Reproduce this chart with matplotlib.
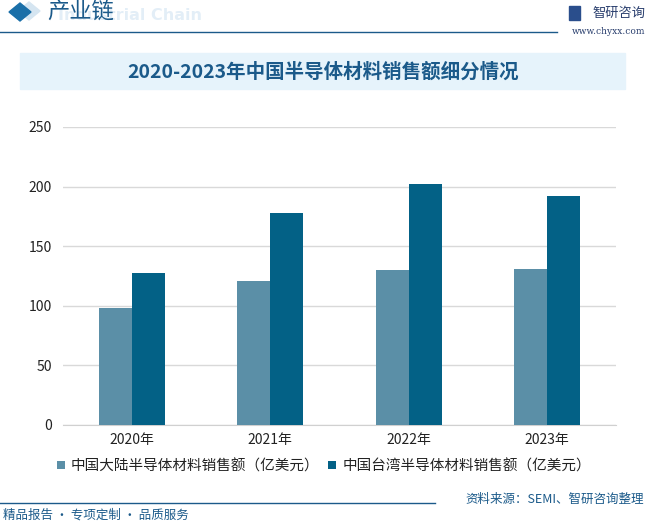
import numpy as np
import matplotlib.pyplot as plt
from matplotlib.patches import Rectangle, Polygon

plt.rcParams['font.family'] = ['Noto Sans CJK SC', 'DejaVu Sans']

# data
years = ['2020年', '2021年', '2022年', '2023年']
mainland = [98, 121, 130, 131]
taiwan = [127.5, 178, 202, 192]
series_names = ['中国大陆半导体材料销售额（亿美元）', '中国台湾半导体材料销售额（亿美元）']
y_ticks = [0, 50, 100, 150, 200, 250]

c_main = '#5b8fa7'
c_tw = '#036186'
c_dark = '#1b5a8a'

W, H = 647, 524
fig = plt.figure(figsize=(6.47, 5.24), dpi=100)


def fx(px):
    return px / W


def fy(py):
    return 1 - py / H


def diamond(cx, cy, hw, hh, color):
    pts = [[fx(cx - hw), fy(cy)], [fx(cx), fy(cy - hh)], [fx(cx + hw), fy(cy)], [fx(cx), fy(cy + hh)]]
    fig.patches.append(Polygon(pts, closed=True, transform=fig.transFigure, color=color, figure=fig))


# header
diamond(29, 11, 11, 9, '#d5e5f1')
diamond(20, 12, 11, 9, '#1a6fa8')
fig.text(fx(58), fy(16), 'Industrial Chain', fontsize=11.5, fontweight='bold', color='#e3eef7',
         ha='left', va='center', family='DejaVu Sans')
fig.text(fx(47), fy(12), '产业链', fontsize=16, color=c_dark, ha='left', va='center')
fig.lines.append(plt.Line2D([0, fx(557)], [fy(32), fy(32)], transform=fig.transFigure,
                            color=c_dark, lw=1))
fig.patches.append(Rectangle((fx(569), fy(20)), fx(11), 14 / H, transform=fig.transFigure,
                             color='#2a4e8c', figure=fig))
fig.text(fx(592), fy(13), '智研咨询', fontsize=9.5, color='#2a3f6e', ha='left', va='center')
fig.text(fx(645), fy(32), 'www.chyxx.com', fontsize=6.5, color='#2a3f6e', ha='right', va='center',
         family='DejaVu Serif')

# title band
fig.patches.append(Rectangle((fx(20), fy(89)), fx(605), 36 / H, transform=fig.transFigure,
                             color='#e6f3fb', figure=fig, zorder=0))
fig.text(fx(323), fy(72), '2020-2023年中国半导体材料销售额细分情况', fontsize=14, fontweight='bold',
         color=c_dark, ha='center', va='center')

# chart
ax = fig.add_axes([fx(63), fy(425), fx(553), 298 / H])
ax.patch.set_alpha(0)
x = np.arange(len(years))
w = 0.239
ax.bar(x - w/2, mainland, w, color=c_main, label=series_names[0], zorder=3)
ax.bar(x + w/2, taiwan, w, color=c_tw, label=series_names[1], zorder=3)
ax.set_xlim(-0.5, len(years) - 0.5)
ax.set_ylim(0, 250)
ax.set_yticks(y_ticks)
ax.set_yticklabels([str(t) for t in y_ticks], fontsize=10, color='#222222')
ax.set_xticks(x)
ax.set_xticklabels(years, fontsize=10, color='#222222')
ax.grid(axis='y', color='#d9d9d9', lw=1, zorder=0)
for s in ['top', 'right', 'left']:
    ax.spines[s].set_visible(False)
ax.spines['bottom'].set_color('#d0d0d0')
ax.tick_params(axis='both', length=0)
ax.tick_params(axis='y', pad=8)
ax.tick_params(axis='x', pad=6)

leg = fig.legend(loc='center', bbox_to_anchor=(fx(324), fy(466)), ncol=2, frameon=False,
                 fontsize=10.5, handlelength=0.55, handleheight=0.55, handletextpad=0.4,
                 columnspacing=0.6)
for t in leg.get_texts():
    t.set_color('#222222')

# footer
fig.lines.append(plt.Line2D([0, fx(435)], [fy(503), fy(503)], transform=fig.transFigure,
                            color=c_dark, lw=1))
fig.text(fx(3), fy(515), '精品报告 · 专项定制 · 品质服务', fontsize=9, color=c_dark, ha='left', va='center')
fig.text(fx(644), fy(499), '资料来源：SEMI、智研咨询整理', fontsize=9, color=c_dark, ha='right', va='center')

fig.savefig('out.png', dpi=100)
